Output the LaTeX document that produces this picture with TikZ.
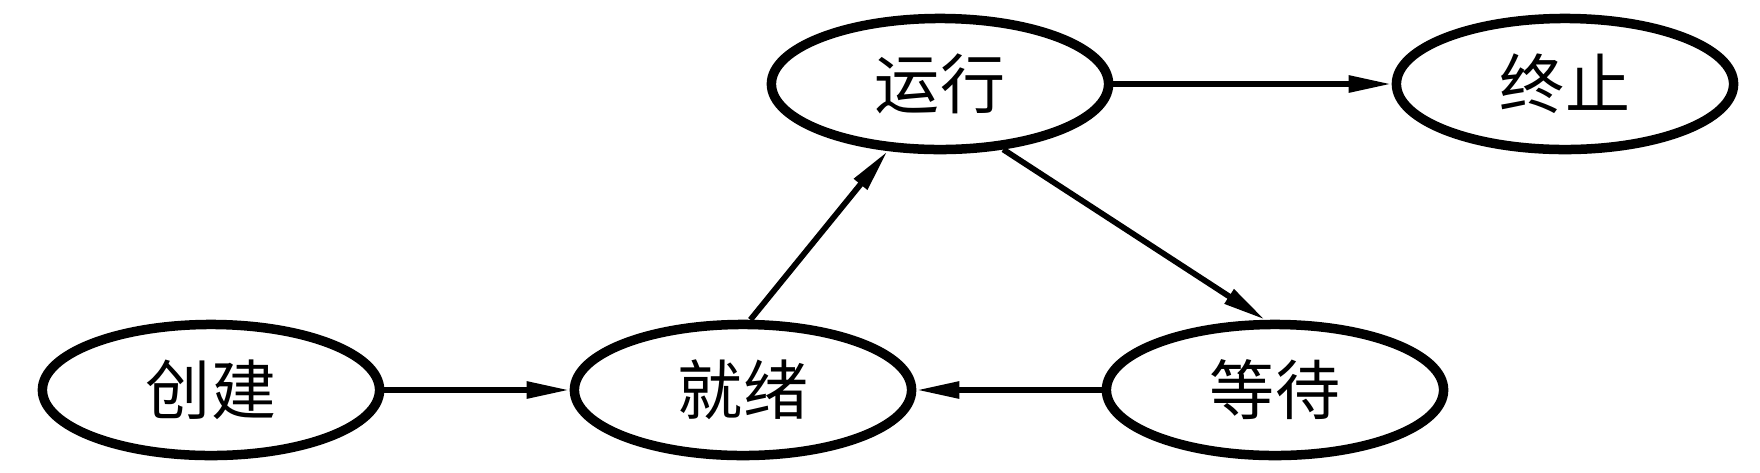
\documentclass[tikz,border=0pt]{standalone}
\usepackage{fontspec}
\newfontfamily\cjk{Noto Sans CJK SC}
\usetikzlibrary{shapes.geometric,arrows.meta}
\tikzset{
  state/.style={ellipse, draw, line width=0.095cm, minimum width=3.37cm, minimum height=1.31cm, inner sep=0pt, font=\cjk\fontsize{18.5}{18.5}\selectfont},
  arr/.style={line width=0.058cm, -{Triangle[length=0.43cm,width=0.16cm]}}
}
\begin{document}
\begin{tikzpicture}[x=0.01cm,y=-0.01cm]
\useasboundingbox (0,0) rectangle (1760,472);
\node[state] (chuangjian) at (211,390) {创建};
\node[state] (jiuxu) at (743,390) {就绪};
\node[state] (dengdai) at (1275,390) {等待};
\node[state] (yunxing) at (940,84) {运行};
\node[state] (zhongzhi) at (1565,84) {终止};
\draw[arr] (chuangjian.east) -- (jiuxu.west);
\draw[arr] (dengdai.west) -- (jiuxu.east);
\draw[arr] (yunxing.east) -- (zhongzhi.west);
\draw[arr] (jiuxu.84) -- (yunxing.232);
\draw[arr] (yunxing.314) -- (dengdai.98);
\end{tikzpicture}
\end{document}
